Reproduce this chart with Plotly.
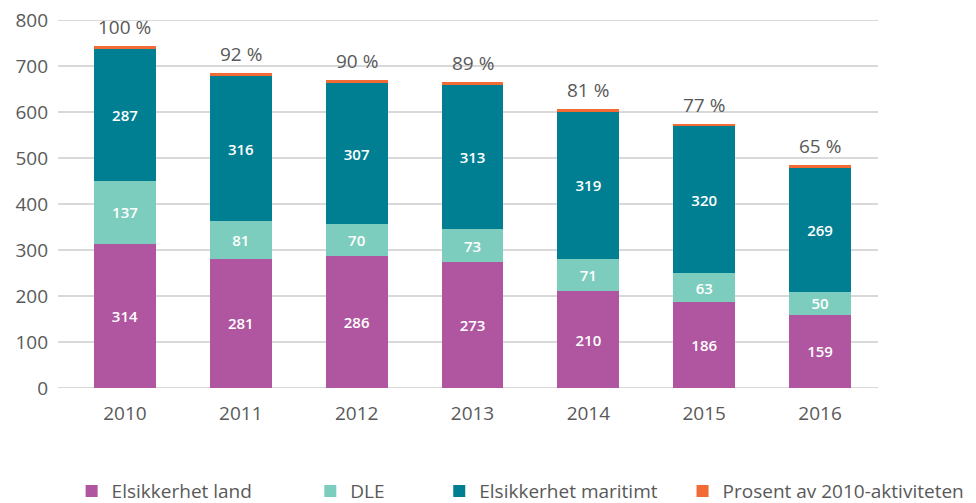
import plotly.graph_objects as go

years = ["2010", "2011", "2012", "2013", "2014", "2015", "2016"]
land = [314, 281, 286, 273, 210, 186, 159]
dle = [137, 81, 70, 73, 71, 63, 50]
maritimt = [287, 316, 307, 313, 319, 320, 269]
prosent_marker = [6, 6, 6, 6, 6, 6, 6]
prosent = [100, 92, 90, 89, 81, 77, 65]
y_ticks = [0, 100, 200, 300, 400, 500, 600, 700, 800]

FONT = "Open Sans"
GREY = "#595959"
GRID = "#D9D9D9"

fig = go.Figure()

def add(name, vals, color, legend, labels=True):
    fig.add_trace(go.Bar(
        x=years, y=vals, name=name, legend=legend,
        marker=dict(color=color, line=dict(width=0)),
        text=[str(v) for v in vals] if labels else None,
        textposition="inside" if labels else "none",
        insidetextanchor="middle",
        constraintext="none",
        textfont=dict(color="white", size=15, family=FONT, weight=600),
        textangle=0,
    ))

add("Elsikkerhet land", land, "#B0559F", "legend")
add("DLE", dle, "#7DCDBE", "legend2")
add("Elsikkerhet maritimt", maritimt, "#007F93", "legend3")
add("Prosent av 2010-aktiviteten", prosent_marker, "#F26B35", "legend4", labels=False)

totals = [a + b + c + d for a, b, c, d in zip(land, dle, maritimt, prosent_marker)]
for i, (t, p) in enumerate(zip(totals, prosent)):
    fig.add_annotation(x=i, y=t, xref="x", yref="y", text=f"{p} %", showarrow=False,
                       yanchor="bottom", yshift=4,
                       font=dict(size=19, color=GREY, family=FONT))

# gridlines extending slightly left of the category area (as in the original)
for v in y_ticks:
    fig.add_shape(type="line", xref="paper", yref="y", x0=-0.011, x1=1, y0=v, y1=v,
                  layer="below", line=dict(color=GRID, width=2))

def leg(x):
    return dict(orientation="h", x=x, xanchor="left", y=-0.28, yanchor="middle",
                font=dict(size=19, color=GREY, family=FONT), itemwidth=30,
                bgcolor="rgba(0,0,0,0)")

fig.update_layout(
    barmode="stack",
    bargap=0.465,
    width=968, height=495,
    margin=dict(l=59, r=98, t=12, b=115, autoexpand=False),
    plot_bgcolor="white", paper_bgcolor="white",
    font=dict(family=FONT, color=GREY),
    legend=leg(0.0057),
    legend2=leg(0.300),
    legend3=leg(0.459),
    legend4=leg(0.759),
    yaxis=dict(range=[0, 800], tickvals=y_ticks, showgrid=False, zeroline=False,
               showline=False, tickfont=dict(size=19, color=GREY), ticks="",
               ticklabelstandoff=18, ticklabeloverflow="allow"),
    xaxis=dict(type="category", range=[-0.5, 6.5], showline=False, showgrid=False,
               tickfont=dict(size=19, color=GREY), ticks="", ticklabelstandoff=12),
    showlegend=True,
)

fig.write_html("out.html")
